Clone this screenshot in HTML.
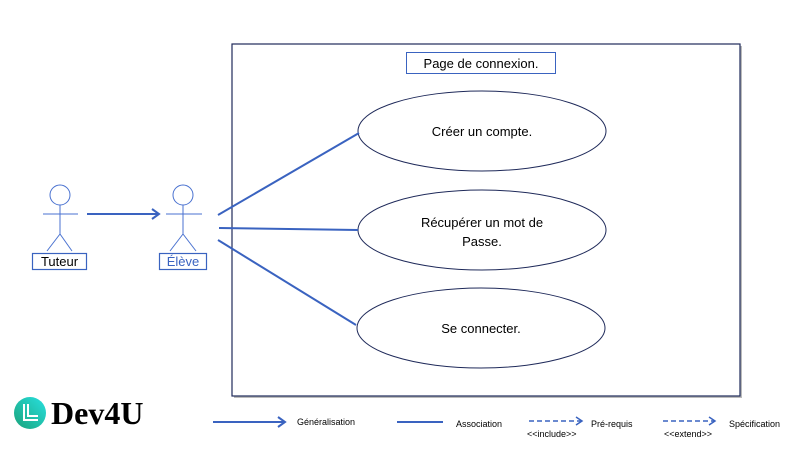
<!DOCTYPE html>
<html><head><meta charset="utf-8"><style>
html,body{margin:0;padding:0;background:#fff;}
svg{display:block;}
text{font-family:"Liberation Sans",sans-serif;}
</style></head><body>
<svg width="802" height="451" viewBox="0 0 802 451" xmlns="http://www.w3.org/2000/svg">
<defs>
<linearGradient id="g" x1="0" y1="1" x2="1" y2="0"><stop offset="0" stop-color="#1aa37a"/><stop offset="1" stop-color="#28e0e0"/></linearGradient>
</defs>
<rect x="234" y="46" width="508" height="352" fill="#bbb"/>
<rect x="232" y="44" width="508" height="352" fill="#fff" stroke="#1f2a5a" stroke-width="1.2"/>
<rect x="406.5" y="52.5" width="149" height="21" fill="#fff" stroke="#3a63c0" stroke-width="1"/>
<text x="481" y="68" font-size="13" text-anchor="middle" fill="#000">Page de connexion.</text>
<ellipse cx="482" cy="131" rx="124" ry="40" fill="#fff" stroke="#1f2a5a" stroke-width="1"/>
<text x="482" y="136" font-size="13" text-anchor="middle">Créer un compte.</text>
<ellipse cx="482" cy="230" rx="124" ry="40" fill="#fff" stroke="#1f2a5a" stroke-width="1"/>
<text x="482" y="227" font-size="13" text-anchor="middle">Récupérer un mot de</text>
<text x="482" y="246" font-size="13" text-anchor="middle">Passe.</text>
<ellipse cx="481" cy="328" rx="124" ry="40" fill="#fff" stroke="#1f2a5a" stroke-width="1"/>
<text x="481" y="333" font-size="13" text-anchor="middle">Se connecter.</text>
<g stroke="#3a63c0" stroke-width="2">
<line x1="218" y1="215" x2="359" y2="133"/>
<line x1="219" y1="228" x2="358" y2="230"/>
<line x1="218" y1="240" x2="356" y2="325"/>
</g>
<g stroke="#4a72d0" stroke-width="1" fill="none">
<circle cx="60" cy="195" r="10"/>
<line x1="60" y1="205" x2="60" y2="234"/>
<line x1="43" y1="214" x2="78" y2="214"/>
<line x1="60" y1="234" x2="47" y2="251"/>
<line x1="60" y1="234" x2="72" y2="251"/>
<circle cx="183" cy="195" r="10"/>
<line x1="183" y1="205" x2="183" y2="234"/>
<line x1="166" y1="214" x2="202" y2="214"/>
<line x1="183" y1="234" x2="170" y2="251"/>
<line x1="183" y1="234" x2="196" y2="251"/>
</g>
<rect x="32.5" y="253.5" width="54" height="16" fill="#fff" stroke="#3a63c0" stroke-width="1.2"/>
<text x="59.5" y="266" font-size="13" text-anchor="middle">Tuteur</text>
<rect x="159.5" y="253.5" width="47" height="16" fill="#fff" stroke="#3a63c0" stroke-width="1.2"/>
<text x="183" y="266" font-size="13" text-anchor="middle" fill="#3a63c0">Élève</text>
<line x1="87" y1="214" x2="158" y2="214" stroke="#3a63c0" stroke-width="2"/>
<polyline points="152,209 159,214 152,219" fill="none" stroke="#3a63c0" stroke-width="2"/>
<circle cx="30" cy="413" r="16" fill="url(#g)"/>
<path d="M24 404 V420 H38 M28 404 V416 H38" fill="none" stroke="#fff" stroke-width="2"/>
<text x="51" y="424" font-size="32" font-weight="bold" style="font-family:'Liberation Serif',serif">Dev4U</text>
<g stroke="#3a63c0" stroke-width="2" fill="none">
<line x1="213" y1="422" x2="284" y2="422"/>
<polyline points="278,417 285,422 278,427"/>
<line x1="397" y1="422" x2="443" y2="422"/>
<line x1="529" y1="421" x2="581" y2="421" stroke-dasharray="5,3" stroke-width="1.5"/>
<polyline points="576,417 582,421 576,425" stroke-width="1.5"/>
<line x1="663" y1="421" x2="714" y2="421" stroke-dasharray="5,3" stroke-width="1.5"/>
<polyline points="709,417 715,421 709,425" stroke-width="1.5"/>
</g>
<g font-size="9" fill="#000">
<text x="297" y="425">Généralisation</text>
<text x="456" y="427">Association</text>
<text x="591" y="427">Pré-requis</text>
<text x="527" y="437">&lt;&lt;include&gt;&gt;</text>
<text x="729" y="427">Spécification</text>
<text x="664" y="437">&lt;&lt;extend&gt;&gt;</text>
</g>
</svg>
</body></html>
